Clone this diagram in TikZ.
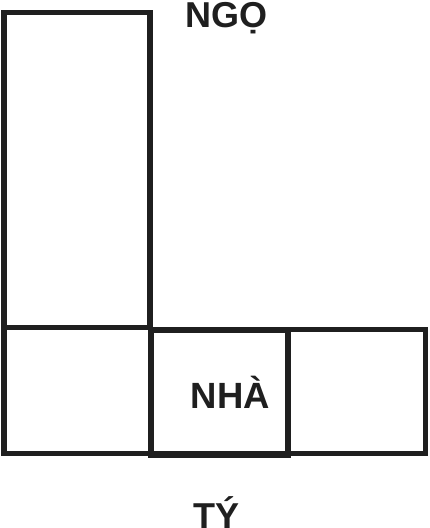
\documentclass[tikz,border=0pt]{standalone}
\usepackage{fontspec}
\setmainfont{Liberation Sans}
\begin{document}
\begin{tikzpicture}[x=1pt,y=-1pt,
  wall/.style={draw=black!88,line width=5.5pt,line join=miter},
  lbl/.style={anchor=base west,inner sep=0pt,font=\bfseries\fontsize{36}{40}\selectfont,text=black!88}]
\useasboundingbox (0,0) rectangle (430,528);
\draw[wall] (4,12.5) rectangle (150,327.5);
\draw[wall] (150,329.5) -- (425.5,329.5) -- (425.5,453.5) -- (4,453.5) -- (4,327.5);
\draw[wall,line width=6pt] (150.5,329.5) rectangle (287.5,454.5);
\node[lbl] (ngo) at (185,27) {NGỌ};
\node[lbl,font=\bfseries\fontsize{36.5}{40}\selectfont] (nha) at (190.5,408) {NHÀ};
\node[lbl] (ty) at (193,528) {TÝ};
\end{tikzpicture}
\end{document}
